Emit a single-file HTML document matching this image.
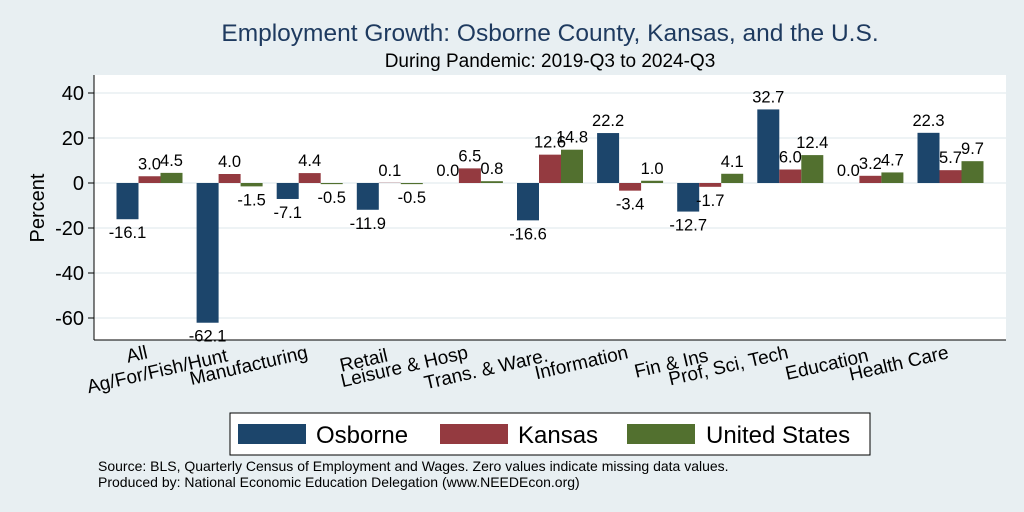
<!DOCTYPE html>
<html><head><meta charset="utf-8"><style>
body{margin:0;background:#e8eff2;}
svg{display:block;font-family:"Liberation Sans",sans-serif;}
</style></head><body>
<svg id="chart" width="1024" height="512">
<rect x="0" y="0" width="1024" height="512" fill="#e8eff2"/>
<text x="550" y="41" font-size="24.5" fill="#1e3a5f" text-anchor="middle">Employment Growth: Osborne County, Kansas, and the U.S.</text>
<text x="550" y="67" font-size="19" fill="#000" text-anchor="middle">During Pandemic: 2019-Q3 to 2024-Q3</text>
<rect x="94" y="75" width="912" height="265" fill="#fff"/>
<g id="grid"></g>
<g id="bars"></g>
<line x1="94" y1="75" x2="94" y2="340" stroke="#000" stroke-width="1"/>
<line x1="94" y1="340" x2="1006" y2="340" stroke="#000" stroke-width="1"/>
<text transform="translate(44,208) rotate(-90)" font-size="20" text-anchor="middle">Percent</text>
<g>
<rect x="230" y="413" width="640" height="42" fill="#fff" stroke="#000" stroke-width="1"/>
<rect x="238" y="424" width="68" height="20" fill="#1c456b"/>
<text x="316" y="443" font-size="24">Osborne</text>
<rect x="440" y="424" width="68" height="20" fill="#943a40"/>
<text x="518" y="443" font-size="24">Kansas</text>
<rect x="627" y="424" width="68" height="20" fill="#52702f"/>
<text x="706" y="443" font-size="24">United States</text>
</g>
<text x="98" y="471" font-size="14">Source: BLS, Quarterly Census of Employment and Wages. Zero values indicate missing data values.</text>
<text x="98" y="487" font-size="14">Produced by: National Economic Education Delegation (www.NEEDEcon.org)</text>
</svg>
<script>
const categories=["All","Ag/For/Fish/Hunt","Manufacturing","Retail","Leisure & Hosp","Trans. & Ware.","Information","Fin & Ins","Prof, Sci, Tech","Education","Health Care"];
const osborne=[-16.1,-62.1,-7.1,-11.9,0.0,-16.6,22.2,-12.7,32.7,0.0,22.3];
const kansas=[3.0,4.0,4.4,0.1,6.5,12.6,-3.4,-1.7,6.0,3.2,5.7];
const unitedStates=[4.5,-1.5,-0.5,-0.5,0.8,14.8,1.0,4.1,12.4,4.7,9.7];
const yTicks=[40,20,0,-20,-40,-60];
const NS="http://www.w3.org/2000/svg";
const y=v=>183-v*2.25;
const xc=i=>149.5+i*80.1;
const BW=22;
function mk(tag,attrs,parent){const e=document.createElementNS(NS,tag);for(const k in attrs)e.setAttribute(k,attrs[k]);parent.appendChild(e);return e;}
const grid=document.getElementById('grid');
yTicks.forEach(t=>{
  const g=mk('line',{x1:94,x2:1006,y1:y(t),y2:y(t),stroke:'#e8eff2','stroke-width':1.5},grid);
  
  
  const tk=mk('line',{x1:88,x2:94,y1:y(t),y2:y(t),stroke:'#000'},grid);
  
  
  const tx=mk('text',{x:84,y:y(t)+7,'font-size':20,'text-anchor':'end'},grid);
  tx.textContent=t;
  
  
});
const bars=document.getElementById('bars');
const series=[[osborne,'#1c456b','osborne'],[kansas,'#943a40','kansas'],[unitedStates,'#52702f','us']];
categories.forEach((c,i)=>{
  series.forEach((s,j)=>{
    const v=s[0][i];
    const x0=xc(i)-33+j*BW;
    const r=mk('rect',{x:x0,y:Math.min(y(v),y(0)),width:BW,height:Math.abs(y(v)-y(0)),fill:s[1]},bars);
    
    
    const ly=v>=0?y(v)-7:y(v)+19;
    const t=mk('text',{x:x0+BW/2,y:ly,'font-size':16.5,'text-anchor':'middle'},bars);
    t.textContent=v.toFixed(1);
    
    
  });
  const ty=i%2===0?358:361;
  const lx=xc(i)-1;
  const lab=mk('text',{x:lx,y:ty,'font-size':19,'text-anchor':'end',transform:'rotate(-13 '+lx+' '+ty+')'},bars);
  lab.textContent=c;
  
  
});
</script>
</body></html>
